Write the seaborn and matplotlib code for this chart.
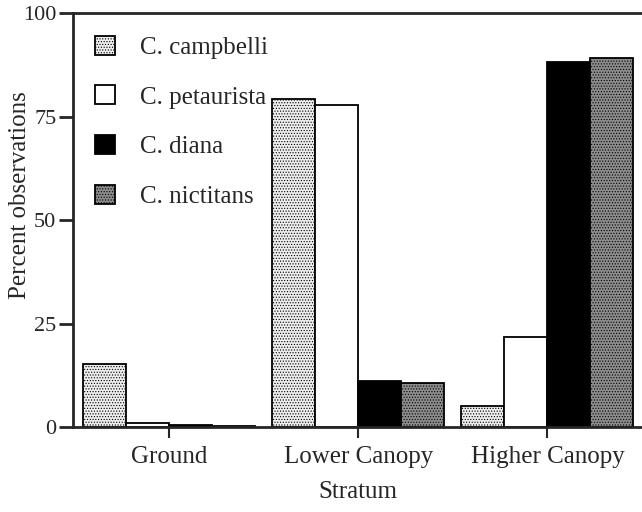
import matplotlib
matplotlib.use("Agg")
import matplotlib.pyplot as plt
from matplotlib.patches import Patch
import pandas as pd
import seaborn as sns

# ----------------------------------------------------------
# Data
# ----------------------------------------------------------
strata = ["Ground", "Lower Canopy", "Higher Canopy"]
species = ["C. campbelli", "C. petaurista", "C. diana", "C. nictitans"]

campbelli = [15.2, 79.2, 5.1]
petaurista = [1.0, 77.8, 21.7]
diana = [0.4, 11.1, 88.2]
nictitans = [0.3, 10.6, 89.1]

rows = []
for sp, vals in zip(species, [campbelli, petaurista, diana, nictitans]):
    for st, v in zip(strata, vals):
        rows.append({"Stratum": st, "Species": sp, "Percent": v})
df = pd.DataFrame(rows)

# ----------------------------------------------------------
# Style
# ----------------------------------------------------------
sns.set_style("ticks")
plt.rcParams["font.family"] = ["Liberation Serif", "DejaVu Serif"]
plt.rcParams["hatch.color"] = "#6a6a6a"
plt.rcParams["hatch.linewidth"] = 0.5

faces = ["#ededed", "white", "black", "#8c8c8c"]
hatches = ["......", None, None, "......"]

fig = plt.figure(figsize=(6.42, 5.12), dpi=100)
ax = fig.add_axes([0.1137, 0.166, 0.8863, 0.8086])

sns.barplot(data=df, x="Stratum", y="Percent", hue="Species",
            order=strata, hue_order=species, palette=faces,
            width=0.91, gap=0, edgecolor="black", linewidth=1.3,
            legend=False, ax=ax)

for cont, h in zip(ax.containers, hatches):
    for bar in cont:
        bar.set_edgecolor("black")
        if h:
            bar.set_hatch(h)

ax.set_xlim(-0.507, 2.5)
ax.set_ylim(0, 100)
ax.set_yticks([0, 25, 50, 75, 100])

for side in ["left", "bottom", "top"]:
    ax.spines[side].set_linewidth(2)
ax.spines["right"].set_visible(False)

ax.tick_params(axis="y", direction="out", length=10, width=2, labelsize=16, pad=2)
ax.tick_params(axis="x", direction="out", length=8, width=1.5, labelsize=18, pad=6)

ax.set_xlabel("Stratum", fontsize=18, labelpad=9)
ax.set_ylabel("Percent observations", fontsize=18)
ax.yaxis.set_label_coords(-0.074, 0.56)

handles = [
    Patch(facecolor=faces[0], edgecolor="black", hatch="......", linewidth=1.3),
    Patch(facecolor=faces[1], edgecolor="black", linewidth=1.3),
    Patch(facecolor=faces[2], edgecolor="black", linewidth=1.3),
    Patch(facecolor=faces[3], edgecolor="black", hatch="......", linewidth=1.3),
]
ax.legend(handles, species, loc="upper left", bbox_to_anchor=(0.0, 1.0),
          frameon=False, fontsize=18, handlelength=0.8, handleheight=0.8,
          labelspacing=1.06, handletextpad=1.0, borderaxespad=0.5)

fig.savefig("out.png", dpi=100)
plt.close(fig)
